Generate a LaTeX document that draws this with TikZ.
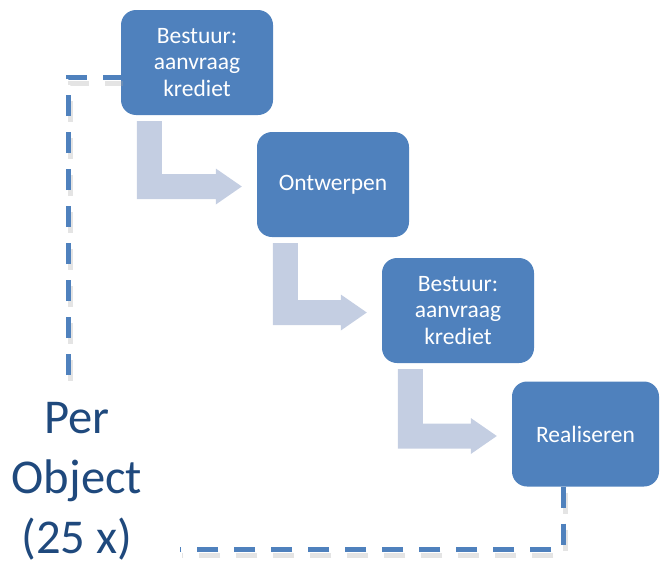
\documentclass[tikz,border=0pt]{standalone}
\usepackage{fontspec}
\setmainfont{Carlito}
\usetikzlibrary{calc}
\definecolor{boxblue}{RGB}{79,129,189}
\definecolor{arrowblue}{RGB}{196,206,226}
\definecolor{textblue}{RGB}{31,73,125}
\tikzset{
  stap/.style={fill=boxblue, rounded corners=15pt, minimum width=152pt, minimum height=105pt,
    inner sep=0pt, align=center, text=white, font=\fontsize{23.5}{26.5}\selectfont},
  bochtpijl/.style={fill=arrowblue},
  lus/.style={draw=boxblue, line width=5pt, dash pattern=on 21pt off 16pt},
  lusschaduw/.style={draw=black!35, line width=5pt, dash pattern=on 21pt off 16pt, opacity=0.3,
    transform canvas={shift={(2pt,-6pt)}}}
}
\newcommand{\bocht}[2]{%
  \coordinate (tip) at ($(#2.west)+(-15,2)$);
  \fill[bochtpijl] ($(#1.south west)+(16,6)$) coordinate (bar)
    -- ++(25,0) |- ($(tip)+(-26,-12.5)$) -- ++(0,-5.5) -- (tip)
    -- ++(-26,18) -- ++(0,-5.5) -| (bar) -- cycle;
}

\begin{document}
\begin{tikzpicture}[x=1pt,y=-1pt]
\useasboundingbox (0,0) rectangle (660,562);
\node[stap] (b1) at (197,62.5) {Bestuur:\\aanvraag\\krediet};
\node[stap] (b2) at (333,184.5) {Ontwerpen};
\node[stap] (b3) at (458,310.5) {Bestuur:\\aanvraag\\krediet};
\node[stap, minimum width=147pt] (b4) at (585.5,434) {Realiseren};
\node[text=textblue, align=center, font=\fontsize{48.6}{60}\selectfont, anchor=base] (per) at (77,553) {Per\\Object\\(25 x)};
\coordinate (lt) at (68,375);
\coordinate (lb) at (180,549);
\foreach \a/\b in {b1/b2,b2/b3,b3/b4} \bocht{\a}{\b};
\draw[lusschaduw] (lt) |- ($(b1.west)+(0,14.5)$);
\draw[lus] (lt) |- ($(b1.west)+(0,14.5)$);
\draw[lusschaduw] ($(b4.south)+(-22.5,0)$) |- (lb);
\draw[lus] ($(b4.south)+(-22.5,0)$) |- (lb);
\end{tikzpicture}
\end{document}
